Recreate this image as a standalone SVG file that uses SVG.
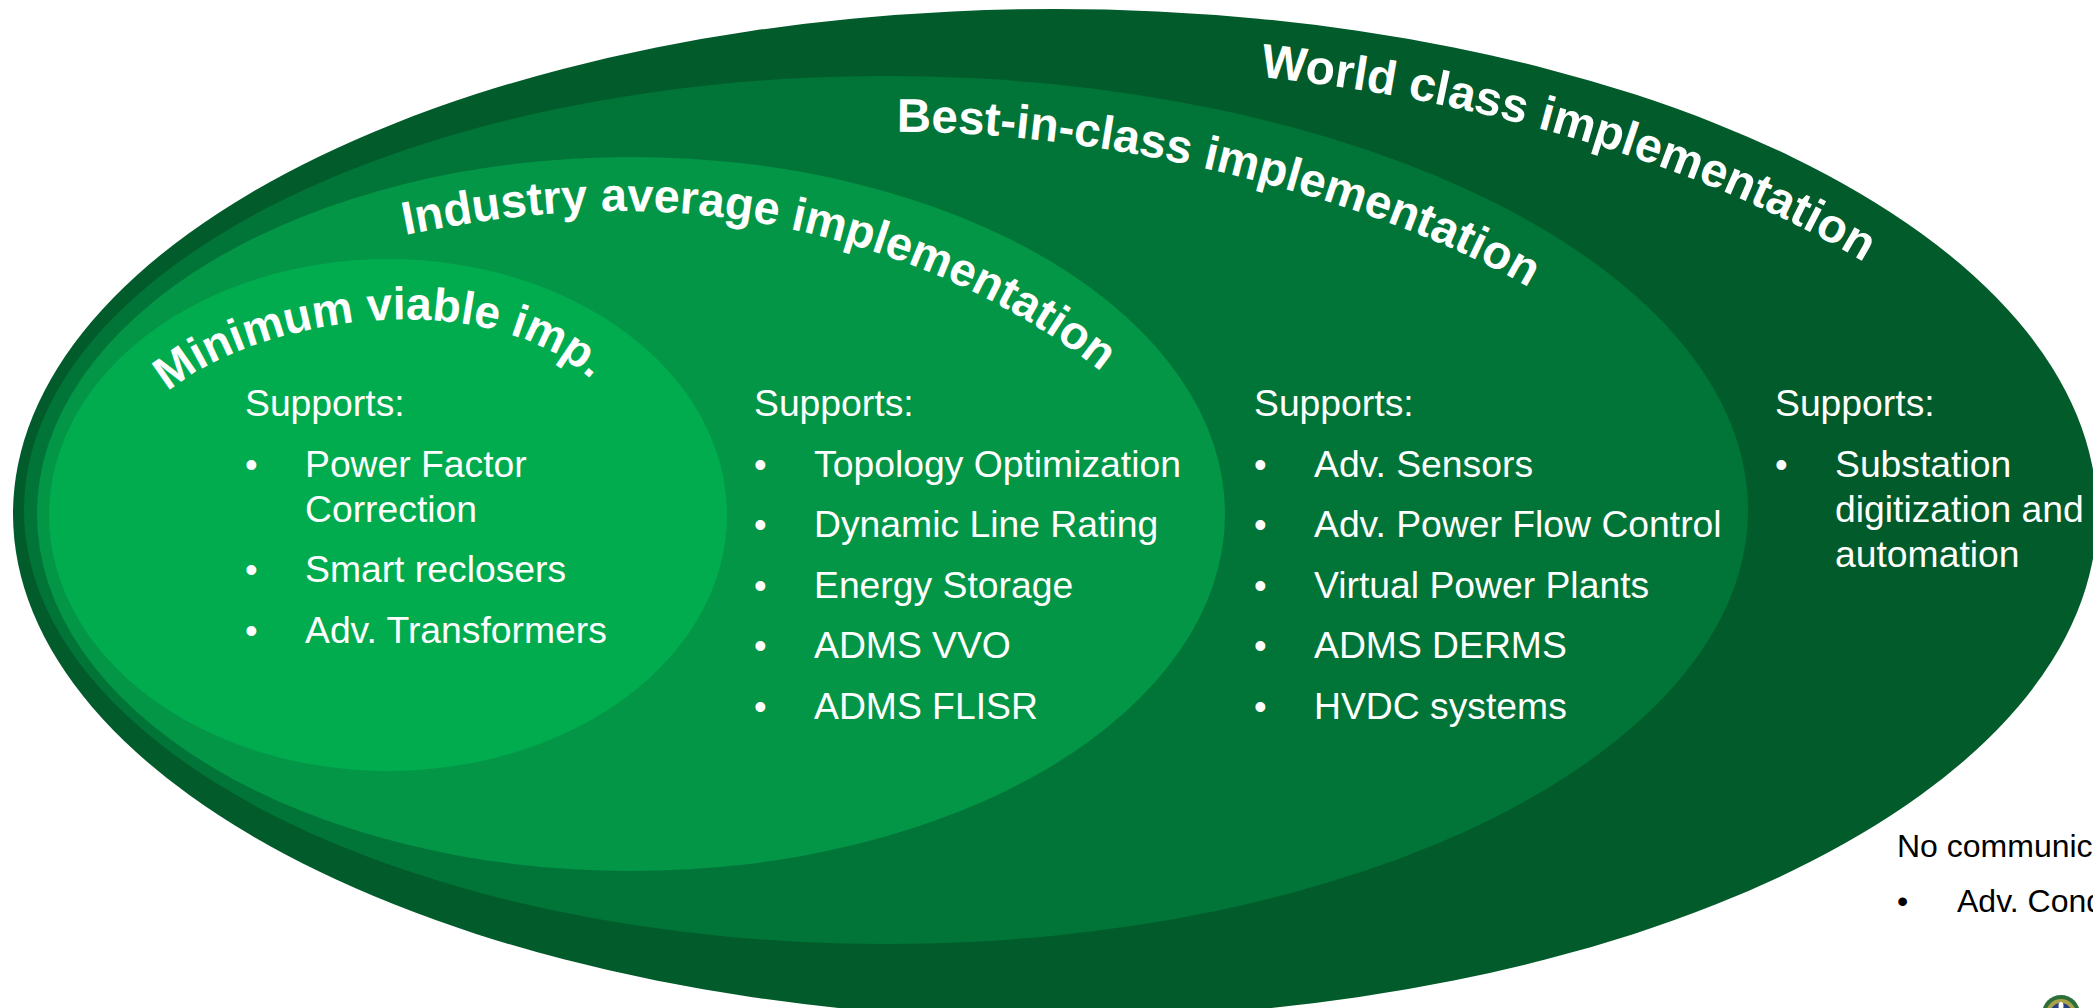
<svg xmlns="http://www.w3.org/2000/svg" width="2093" height="1008" viewBox="0 0 2093 1008">
<style>
text{font-family:"Liberation Sans",Arial,sans-serif}
.b{font-size:37.3px;fill:#fff}
.d{font-size:36px;fill:#fff}
.a{font-weight:bold;fill:#fff}
.k{font-size:32px;fill:#000}
</style>
<defs>
<path id="p4" d="M1260 77 C1468 98 1687 158 1857 258 L1950 313"/>
<path id="p3" d="M897 132 C1100 130 1370 195 1528 287 L1620 340"/>
<path id="p2" d="M405 235 C470 222 540 211 620 211 C820 211 990 285 1095 367 L1180 433"/>
<path id="p1" d="M168 392 C250 320 490 275 600 388 L660 450"/>
</defs>
<rect width="2093" height="1008" fill="#fff"/>
<g id="world"><ellipse cx="1055" cy="514" rx="1042" ry="505" fill="#025b2a"/></g>
<g id="best"><ellipse cx="886" cy="510" rx="862" ry="434" fill="#017538"/></g>
<g id="industry"><ellipse cx="631" cy="514" rx="594" ry="357" fill="#039646"/></g>
<g id="minimum"><ellipse cx="388" cy="515" rx="339" ry="256" fill="#01ac4f"/></g>
<g id="labels">
<text class="a" font-size="48"><textPath href="#p4">World class implementation</textPath></text>
<text class="a" font-size="47.3"><textPath href="#p3">Best-in-class implementation</textPath></text>
<text class="a" font-size="46.8"><textPath href="#p2">Industry average implementation</textPath></text>
<text class="a" font-size="46"><textPath href="#p1">Minimum viable imp.</textPath></text>
</g>
<g id="col1">
<text class="b" x="245" y="416">Supports:</text>
<text class="d" x="245" y="477">•</text><text class="b" x="305" y="477">Power Factor</text>
<text class="b" x="305" y="522">Correction</text>
<text class="d" x="245" y="582">•</text><text class="b" x="305" y="582">Smart reclosers</text>
<text class="d" x="245" y="643">•</text><text class="b" x="305" y="643">Adv. Transformers</text>
</g>
<g id="col2">
<text class="b" x="754" y="416">Supports:</text>
<text class="d" x="754" y="477">•</text><text class="b" x="814" y="477">Topology Optimization</text>
<text class="d" x="754" y="537">•</text><text class="b" x="814" y="537">Dynamic Line Rating</text>
<text class="d" x="754" y="598">•</text><text class="b" x="814" y="598">Energy Storage</text>
<text class="d" x="754" y="658">•</text><text class="b" x="814" y="658">ADMS VVO</text>
<text class="d" x="754" y="719">•</text><text class="b" x="814" y="719">ADMS FLISR</text>
</g>
<g id="col3">
<text class="b" x="1254" y="416">Supports:</text>
<text class="d" x="1254" y="477">•</text><text class="b" x="1314" y="477">Adv. Sensors</text>
<text class="d" x="1254" y="537">•</text><text class="b" x="1314" y="537">Adv. Power Flow Control</text>
<text class="d" x="1254" y="598">•</text><text class="b" x="1314" y="598">Virtual Power Plants</text>
<text class="d" x="1254" y="658">•</text><text class="b" x="1314" y="658">ADMS DERMS</text>
<text class="d" x="1254" y="719">•</text><text class="b" x="1314" y="719">HVDC systems</text>
</g>
<g id="col4">
<text class="b" x="1775" y="416">Supports:</text>
<text class="d" x="1775" y="477">•</text><text class="b" x="1835" y="477">Substation</text>
<text class="b" x="1835" y="522">digitization and</text>
<text class="b" x="1835" y="567">automation</text>
</g>
<g id="none">
<text class="k" x="1897" y="857">No communications</text>
<text class="k" x="1897" y="912">•</text><text class="k" x="1957" y="912">Adv. Conductors</text>
</g>
<g id="seal"><circle cx="2061" cy="1014" r="19" fill="#2c6e3a"/><circle cx="2061" cy="1014" r="15" fill="#a9a24a"/><circle cx="2061" cy="1014" r="11" fill="#25407f"/><ellipse cx="2061" cy="1006" rx="2.5" ry="4" fill="#fff"/></g>
</svg>
